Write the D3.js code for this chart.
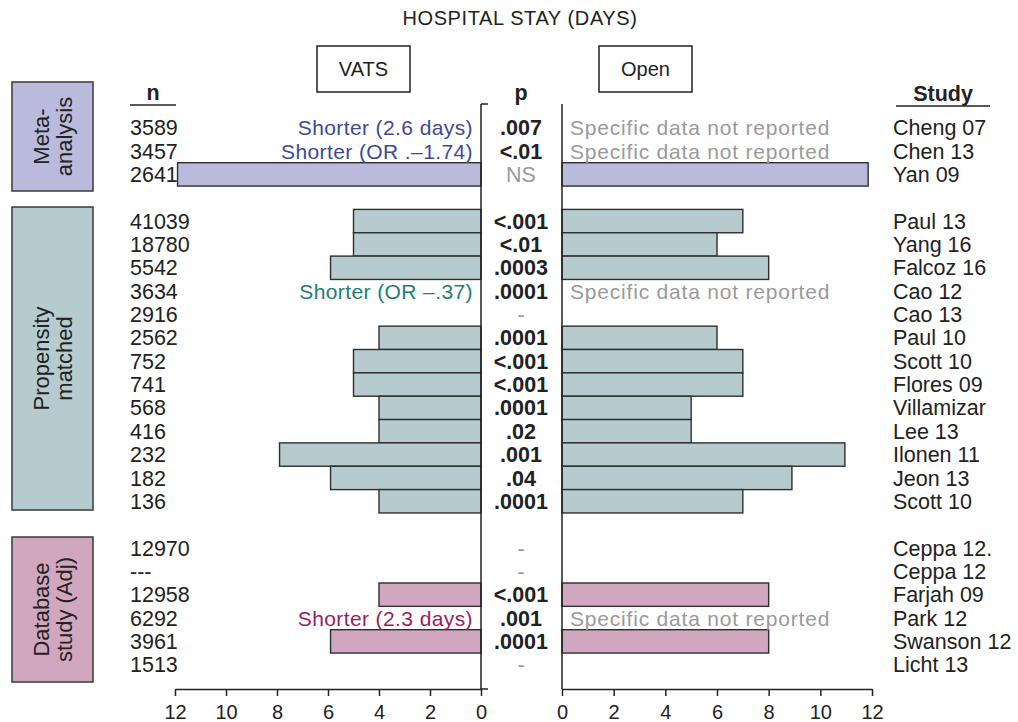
<!DOCTYPE html>
<html>
<head>
<meta charset="utf-8">
<script src="https://cdn.jsdelivr.net/npm/d3@7"></script>
<style>
  html, body { margin: 0; padding: 0; background: #fff; }
  svg { display: block; font-family: "Liberation Sans", Arial, Helvetica, sans-serif; }
</style>
</head>
<body>
<svg id="chart" width="1018" height="722"></svg>
<script>
// ---- data ----------------------------------------------------------------
const groups = ["Meta-analysis", "Propensity matched", "Database study (Adj)"];
const groupLines = [["Meta-", "analysis"], ["Propensity", "matched"], ["Database", "study (Adj)"]];
const groupColors = ["#babbdc", "#b5cbcd", "#d0a7bf"];

const studies = [
  "Cheng 07", "Chen 13", "Yan 09",
  "Paul 13", "Yang 16", "Falcoz 16", "Cao 12", "Cao 13", "Paul 10", "Scott 10",
  "Flores 09", "Villamizar", "Lee 13", "Ilonen 11", "Jeon 13", "Scott 10",
  "Ceppa 12.", "Ceppa 12", "Farjah 09", "Park 12", "Swanson 12", "Licht 13"
];
const studyGroup = [
  0, 0, 0,
  1, 1, 1, 1, 1, 1, 1, 1, 1, 1, 1, 1, 1,
  2, 2, 2, 2, 2, 2
];
const sampleSizes = [
  "3589", "3457", "2641",
  "41039", "18780", "5542", "3634", "2916", "2562", "752",
  "741", "568", "416", "232", "182", "136",
  "12970", "---", "12958", "6292", "3961", "1513"
];
const pValues = [
  ".007", "<.01", "NS",
  "<.001", "<.01", ".0003", ".0001", "-", ".0001", "<.001",
  "<.001", ".0001", ".02", ".001", ".04", ".0001",
  "-", "-", "<.001", ".001", ".0001", "-"
];
// hospital stay in days (null = no bar)
const vatsDays = [
  null, null, 11.9,
  5, 5, 5.9, null, null, 4, 5,
  5, 4, 4, 7.9, 5.9, 4,
  null, null, 4, null, 5.9, null
];
const openDays = [
  null, null, 11.85,
  7, 6, 8, null, null, 6, 7,
  7, 5, 5, 10.95, 8.9, 7,
  null, null, 8, null, 8, null
];
// text shown instead of a bar
const vatsNotes = [
  "Shorter (2.6 days)", "Shorter (OR .\u20131.74)", null,
  null, null, null, "Shorter (OR \u2013.37)", null, null, null,
  null, null, null, null, null, null,
  null, null, null, "Shorter (2.3 days)", null, null
];
const noteColors = ["#3d4a97", "#237c76", "#9b1c63"];
const openNote = "Specific data not reported";
const openNoteRows = ["Cheng 07", "Chen 13", "Cao 12", "Park 12"];
const dayTicks = [0, 2, 4, 6, 8, 10, 12];

// ---- layout --------------------------------------------------------------
const svg = d3.select("#chart");
const ink = "#222";
const grey = "#9a9a9a";
const fs = 21.5;

// one slot per study plus an empty slot between groups
const rows = studies.map((s, i) => ({
  study: s,
  group: studyGroup[i],
  slot: i + studyGroup[i],
  n: sampleSizes[i],
  p: pValues[i],
  vats: vatsDays[i],
  open: openDays[i],
  note: vatsNotes[i],
  openNote: openNoteRows.includes(s) && openDays[i] === null
}));
const nSlots = studies.length + groups.length - 1;

const y = d3.scaleBand().domain(d3.range(nSlots)).range([116, 676.4]).padding(0);
const xL = d3.scaleLinear().domain([0, 12]).range([481, 175]);
const xR = d3.scaleLinear().domain([0, 12]).range([562, 872]);
const bh = y.bandwidth();
const baseline = d => y(d.slot) + bh / 2 + 7.6;

const axisY = 689;
const nX = 130, pX = 521, studyX = 893;

// title
svg.append("text")
  .attr("x", 520).attr("y", 25)
  .attr("text-anchor", "middle")
  .attr("font-size", 20).attr("letter-spacing", 0.6)
  .attr("fill", ink)
  .text("HOSPITAL STAY (DAYS)");

// side headers
[["VATS", 317, 93], ["Open", 599, 93]].forEach(([label, x0, w]) => {
  svg.append("rect").attr("x", x0).attr("y", 46).attr("width", w).attr("height", 46)
    .attr("fill", "#fff").attr("stroke", ink).attr("stroke-width", 1.5);
  svg.append("text").attr("x", x0 + w / 2).attr("y", 76)
    .attr("text-anchor", "middle").attr("font-size", 20).attr("fill", ink).text(label);
});

// column headers
svg.append("text").attr("x", 153).attr("y", 100).attr("text-anchor", "middle")
  .attr("font-size", fs).attr("font-weight", "bold").attr("fill", ink).text("n");
svg.append("line").attr("x1", 130).attr("x2", 176).attr("y1", 105).attr("y2", 105)
  .attr("stroke", ink).attr("stroke-width", 1.5);
svg.append("text").attr("x", pX).attr("y", 100).attr("text-anchor", "middle")
  .attr("font-size", fs).attr("font-weight", "bold").attr("fill", ink).text("p");
svg.append("text").attr("x", 943).attr("y", 101).attr("text-anchor", "middle")
  .attr("font-size", fs).attr("font-weight", "bold").attr("fill", ink).text("Study");
svg.append("line").attr("x1", 896).attr("x2", 990).attr("y1", 106).attr("y2", 106)
  .attr("stroke", ink).attr("stroke-width", 1.5);

// group boxes on the left
const groupBoxes = [[82, 191], [207, 510], [537, 682]];
groups.forEach((g, gi) => {
  const [y0, y1] = groupBoxes[gi];
  svg.append("rect").attr("x", 12).attr("y", y0).attr("width", 81).attr("height", y1 - y0)
    .attr("fill", groupColors[gi]).attr("stroke", "#3a3a3a").attr("stroke-width", 1.5);
  const t = svg.append("text")
    .attr("transform", `translate(52.5,${(y0 + y1) / 2}) rotate(-90)`)
    .attr("text-anchor", "middle").attr("font-size", 22).attr("fill", ink);
  groupLines[gi].forEach((line, li) => {
    t.append("tspan").attr("x", 0).attr("y", li === 0 ? -4 : 19).text(line);
  });
});

// bars: VATS to the left, Open to the right
svg.append("g").selectAll("rect")
  .data(rows.filter(d => d.vats !== null)).join("rect")
  .attr("x", d => xL(d.vats)).attr("width", d => xL(0) - xL(d.vats))
  .attr("y", d => y(d.slot)).attr("height", bh)
  .attr("fill", d => groupColors[d.group])
  .attr("stroke", "#2e2e2e").attr("stroke-width", 1.4);

svg.append("g").selectAll("rect")
  .data(rows.filter(d => d.open !== null)).join("rect")
  .attr("x", xR(0)).attr("width", d => xR(d.open) - xR(0))
  .attr("y", d => y(d.slot)).attr("height", bh)
  .attr("fill", d => groupColors[d.group])
  .attr("stroke", "#2e2e2e").attr("stroke-width", 1.4);

// row texts
svg.append("g").selectAll("text").data(rows).join("text")
  .attr("x", nX).attr("y", baseline)
  .attr("font-size", fs).attr("fill", ink).text(d => d.n);

svg.append("g").selectAll("text").data(rows).join("text")
  .attr("x", pX).attr("y", baseline)
  .attr("text-anchor", "middle").attr("font-size", fs)
  .attr("font-weight", d => (d.p === "NS" || d.p === "-") ? "normal" : "bold")
  .attr("fill", d => (d.p === "NS" || d.p === "-") ? grey : ink)
  .text(d => d.p);

svg.append("g").selectAll("text").data(rows).join("text")
  .attr("x", studyX).attr("y", baseline)
  .attr("font-size", fs).attr("fill", ink).text(d => d.study);

svg.append("g").selectAll("text").data(rows.filter(d => d.note)).join("text")
  .attr("x", 473).attr("y", baseline)
  .attr("text-anchor", "end").attr("font-size", 21).attr("letter-spacing", 0.4)
  .attr("fill", d => noteColors[d.group]).text(d => d.note);

svg.append("g").selectAll("text").data(rows.filter(d => d.openNote)).join("text")
  .attr("x", 570).attr("y", baseline)
  .attr("font-size", 21).attr("letter-spacing", 0.8)
  .attr("fill", grey).text(openNote);

// dividers around the p column
svg.append("line").attr("x1", xL(0)).attr("x2", xL(0)).attr("y1", 104).attr("y2", axisY)
  .attr("stroke", ink).attr("stroke-width", 1.5);
svg.append("line").attr("x1", xL(0)).attr("x2", xL(0) + 7).attr("y1", 104).attr("y2", 104)
  .attr("stroke", ink).attr("stroke-width", 1.5);
svg.append("line").attr("x1", xR(0)).attr("x2", xR(0)).attr("y1", 104).attr("y2", axisY)
  .attr("stroke", ink).attr("stroke-width", 1.5);

// axes
const styleAxis = g => {
  g.select(".domain").attr("stroke", ink).attr("stroke-width", 1.5);
  g.selectAll(".tick line").attr("stroke", ink).attr("stroke-width", 1.5);
  g.selectAll(".tick text").attr("font-size", 20).attr("fill", ink)
    .attr("font-family", "Liberation Sans, Arial, sans-serif");
};
svg.append("g").attr("transform", `translate(0,${axisY})`)
  .call(d3.axisBottom(xL).tickValues(dayTicks).tickSize(7).tickSizeOuter(0).tickPadding(9))
  .call(styleAxis);
svg.append("line").attr("x1", xL(0)).attr("x2", xL(0) + 7).attr("y1", axisY).attr("y2", axisY)
  .attr("stroke", ink).attr("stroke-width", 1.5);
svg.append("g").attr("transform", `translate(0,${axisY})`)
  .call(d3.axisBottom(xR).tickValues(dayTicks).tickSize(7).tickSizeOuter(0).tickPadding(9))
  .call(styleAxis);
</script>
</body>
</html>
